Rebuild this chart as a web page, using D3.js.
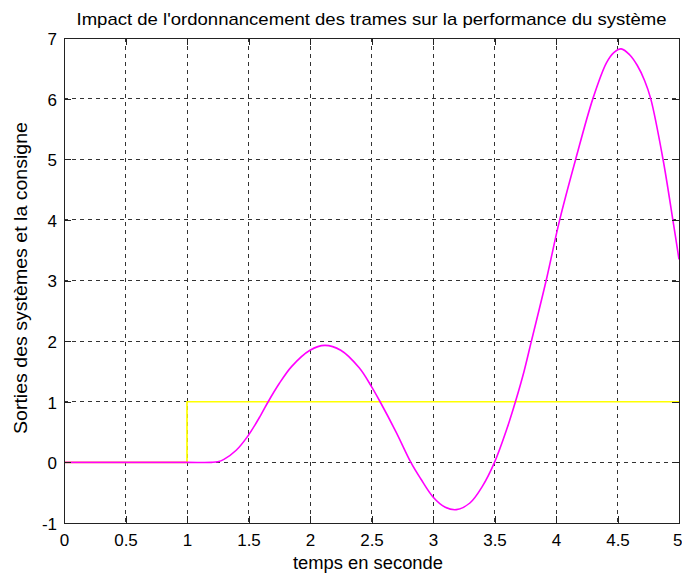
<!DOCTYPE html>
<html>
<head>
<meta charset="utf-8">
<script src="https://cdn.jsdelivr.net/npm/d3@7"></script>
<style>
  html, body { margin: 0; padding: 0; background: #fff; }
  svg { display: block; }
  text { font-family: "Liberation Sans", Arial, sans-serif; fill: #000; }
</style>
</head>
<body>
<svg id="chart" width="682" height="575"></svg>
<script>
// ---- data ----
const title = "Impact de l'ordonnancement des trames sur la performance du système";
const xLabel = "temps en seconde";
const yLabel = "Sorties des systèmes et la consigne";
const xTicks = [0, 0.5, 1, 1.5, 2, 2.5, 3, 3.5, 4, 4.5, 5];
const yTicks = [-1, 0, 1, 2, 3, 4, 5, 6, 7];

// system output (magenta)
const sysT = [0, 0.5, 1.0, 1.2, 1.25, 1.3, 1.4, 1.5, 1.6, 1.66, 1.75, 1.85, 2.0, 2.12, 2.25, 2.4, 2.5, 2.57, 2.7, 2.82, 2.9, 3.0, 3.1, 3.19, 3.3, 3.4, 3.5, 3.6, 3.67, 3.74, 3.8, 3.92, 4.03, 4.16, 4.3, 4.41, 4.47, 4.53, 4.6, 4.66, 4.72, 4.77, 4.87, 4.95, 5.0];
const sysY = [0, 0, 0, 0, 0.01, 0.05, 0.2, 0.45, 0.78, 1.0, 1.3, 1.58, 1.85, 1.93, 1.85, 1.56, 1.25, 1.0, 0.5, 0.0, -0.27, -0.57, -0.74, -0.78, -0.67, -0.40, 0.0, 0.55, 1.0, 1.5, 2.0, 3.0, 4.0, 5.0, 6.0, 6.59, 6.76, 6.82, 6.72, 6.55, 6.3, 6.0, 5.0, 4.0, 3.35];

// set-point (yellow step)
const refT = [0, 1, 1, 5];
const refY = [0, 0, 1, 1];

// ---- layout ----
const svg = d3.select("#chart");
const pL = 64, pR = 679, pT = 38, pB = 523;

const x = d3.scaleLinear().domain([0, 5]).range([pL, pR]);
const y = d3.scaleLinear().domain([-1, 7]).range([pB, pT]);

const axisColor = "#222";

// grid
const g = svg.append("g");
g.selectAll("line.vgrid").data(xTicks.slice(1, -1)).enter().append("line")
  .attr("x1", d => x(d)).attr("x2", d => x(d))
  .attr("y1", pT).attr("y2", pB)
  .attr("stroke", "#333").attr("stroke-width", 1).attr("stroke-dasharray", "4,4")
  .attr("shape-rendering", "crispEdges");
g.selectAll("line.hgrid").data(yTicks.slice(1, -1)).enter().append("line")
  .attr("x1", pL).attr("x2", pR)
  .attr("y1", d => y(d)).attr("y2", d => y(d))
  .attr("stroke", "#333").attr("stroke-width", 1).attr("stroke-dasharray", "4,4")
  .attr("shape-rendering", "crispEdges");

// lines
const line = d3.line().x(d => x(d[0])).y(d => y(d[1]));
const refData = refT.map((t, i) => [t, refY[i]]);
svg.append("path").datum(refData)
  .attr("d", line).attr("fill", "none")
  .attr("stroke", "#ffff00").attr("stroke-width", 1.7);

const sysData = sysT.map((t, i) => [t, sysY[i]]);
svg.append("path").datum(sysData)
  .attr("d", d3.line().x(d => x(d[0])).y(d => y(d[1])).curve(d3.curveCatmullRom.alpha(0.5)))
  .attr("fill", "none")
  .attr("stroke", "#ff00ff").attr("stroke-width", 1.6);

// axes (ticks inside, on all four sides)
const tickLen = 7;
const fmt = d => String(d);
const xAxisB = d3.axisBottom(x).tickValues(xTicks).tickSize(-tickLen).tickPadding(11).tickFormat(fmt);
const xAxisT = d3.axisTop(x).tickValues(xTicks).tickSize(-tickLen).tickFormat("");
const yAxisL = d3.axisLeft(y).tickValues(yTicks).tickSize(-tickLen).tickPadding(7).tickFormat(fmt);
const yAxisR = d3.axisRight(y).tickValues(yTicks).tickSize(-tickLen).tickFormat("");

function style(sel) {
  sel.select(".domain").remove();
  sel.selectAll(".tick line").attr("stroke", axisColor).attr("shape-rendering", "crispEdges");
  sel.selectAll(".tick text").attr("font-family", "Liberation Sans, Arial, sans-serif")
    .attr("font-size", 17).attr("fill", "#000");
}
const xb = svg.append("g").attr("transform", `translate(0,${pB})`).call(xAxisB).call(style);
xb.selectAll(".tick text").filter(d => d === 5).attr("text-anchor", "end").attr("x", 3);
svg.append("g").attr("transform", `translate(0,${pT})`).call(xAxisT).call(style);
const yl = svg.append("g").attr("transform", `translate(${pL},0)`).call(yAxisL).call(style);
yl.selectAll(".tick text").attr("dy", "0.38em");
svg.append("g").attr("transform", `translate(${pR},0)`).call(yAxisR).call(style);

// frame
svg.append("rect")
  .attr("x", pL).attr("y", pT).attr("width", pR - pL).attr("height", pB - pT)
  .attr("fill", "none").attr("stroke", axisColor).attr("stroke-width", 1)
  .attr("shape-rendering", "crispEdges");

// labels
svg.append("text").attr("x", (pL + pR) / 2).attr("y", 25)
  .attr("text-anchor", "middle").attr("font-size", 17)
  .attr("textLength", 590).attr("lengthAdjust", "spacingAndGlyphs")
  .text(title);

svg.append("text").attr("x", 368).attr("y", 569)
  .attr("text-anchor", "middle").attr("font-size", 18)
  .attr("textLength", 150).attr("lengthAdjust", "spacingAndGlyphs")
  .text(xLabel);

svg.append("text")
  .attr("transform", `translate(27,278) rotate(-90)`)
  .attr("text-anchor", "middle").attr("font-size", 18)
  .attr("textLength", 312).attr("lengthAdjust", "spacingAndGlyphs")
  .text(yLabel);
</script>
</body>
</html>
